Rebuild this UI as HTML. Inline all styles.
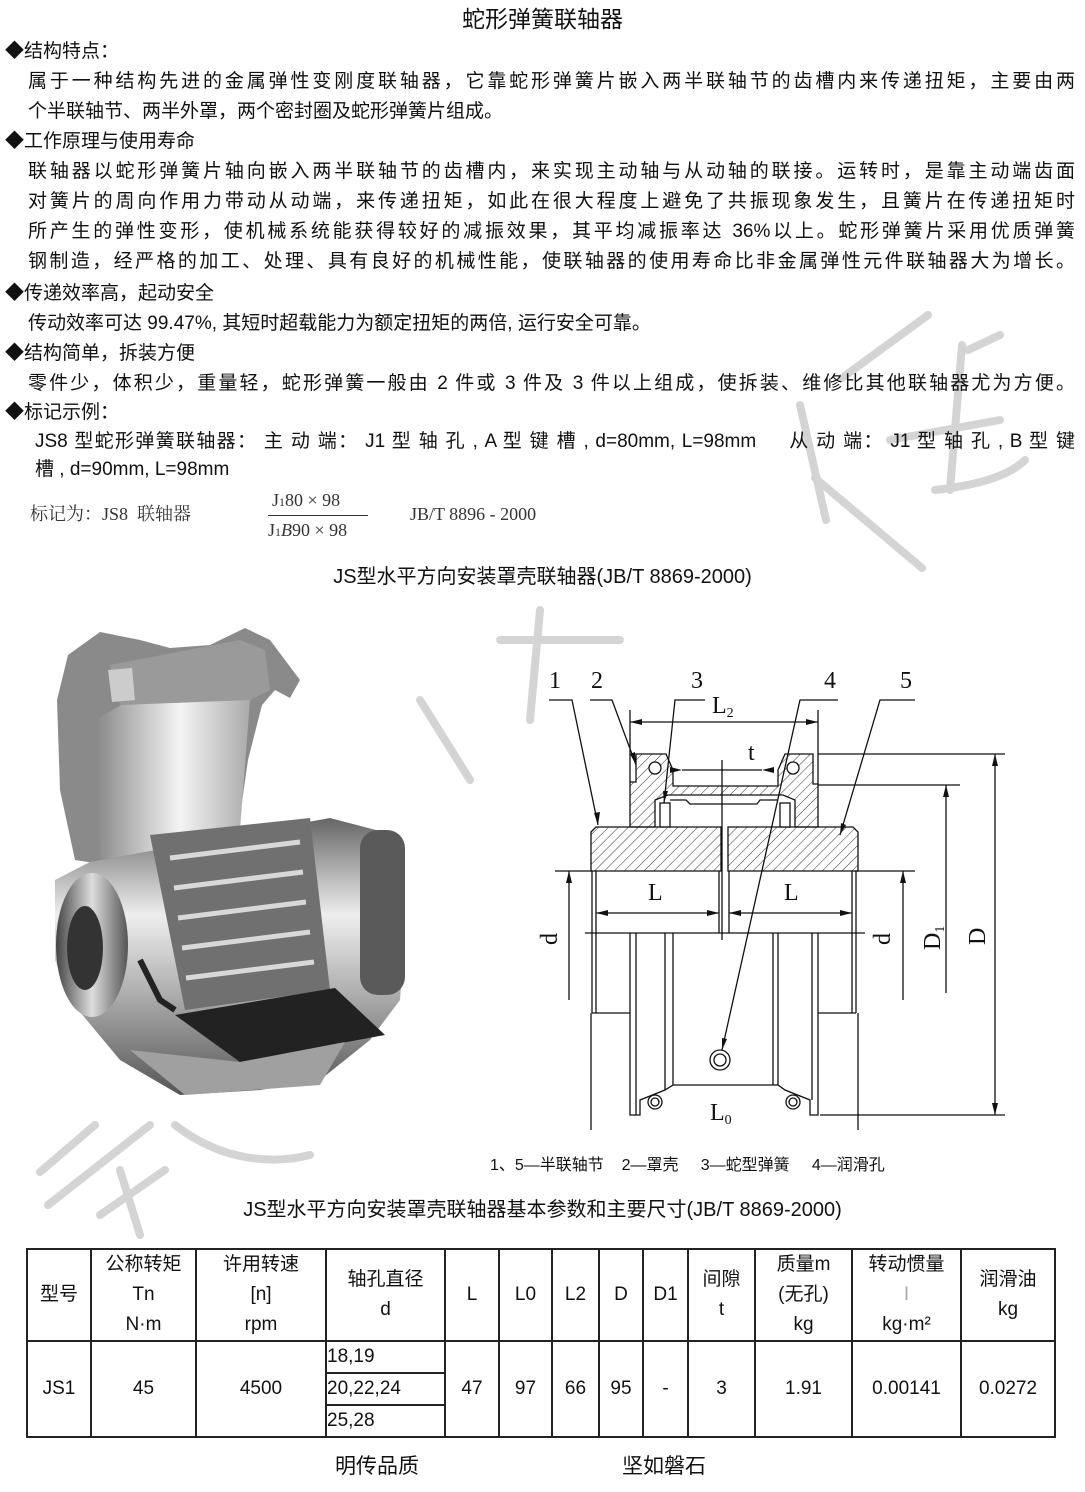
<!DOCTYPE html>
<html><head><meta charset="utf-8">
<style>
html,body{margin:0;padding:0;background:#fff}
body{width:1085px;height:1492px;position:relative;overflow:hidden;font-family:"Liberation Sans","Noto Sans CJK SC",sans-serif;color:#111}
.t{position:absolute;white-space:nowrap;font-size:19px;line-height:22px}
.j{text-align:justify;text-align-last:justify;white-space:normal}
table{position:absolute;left:26px;top:1248px;width:1030px;border-collapse:collapse;font-size:19px}
td{border:2px solid #222;text-align:center;padding:0;line-height:30px}
</style></head><body>
<svg width="1085" height="1492" style="position:absolute;left:0;top:0">
<!-- watermark -->
<g stroke="#d4d4d4" stroke-width="8" fill="none" stroke-linecap="round">
<path d="M928 315 L842 378"/>
<path d="M800 405 L826 520"/>
<path d="M815 478 L922 568"/>
<path d="M962 345 L950 490"/>
<path d="M890 440 L1000 420"/>
<path d="M935 490 C980 485 1010 475 1025 460"/>
<path d="M968 350 L1000 335"/>
<path d="M420 700 L470 780"/>
<path d="M500 640 L620 640 M540 610 L530 720"/>
<path d="M40 1172 L95 1125"/>
<path d="M48 1205 L150 1125"/>
<path d="M100 1215 L165 1170"/>
<path d="M120 1170 L140 1235"/>
<path d="M175 1125 C220 1160 270 1165 310 1155"/>
</g>
<defs>
<linearGradient id="g1" x1="0" y1="0" x2="0" y2="1"><stop offset="0" stop-color="#666"/><stop offset=".35" stop-color="#eee"/><stop offset=".65" stop-color="#aaa"/><stop offset="1" stop-color="#555"/></linearGradient>
<linearGradient id="g2" x1="0" y1="0" x2="1" y2="0"><stop offset="0" stop-color="#888"/><stop offset=".55" stop-color="#f4f4f4"/><stop offset="1" stop-color="#aaa"/></linearGradient>
<linearGradient id="g3" x1="0" y1="0" x2="1" y2="0"><stop offset="0" stop-color="#444"/><stop offset=".5" stop-color="#ddd"/><stop offset="1" stop-color="#555"/></linearGradient>
<pattern id="h" width="7" height="7" patternUnits="userSpaceOnUse" patternTransform="rotate(45)"><line x1="0" y1="0" x2="0" y2="7" stroke="#333" stroke-width="1"/></pattern>
</defs>
<!-- photo -->
<path d="M60 790 L57 700 L68 655 L100 632 L140 640 L170 648 L210 645 L245 628 L270 640 L300 680 L290 698 L275 690 L262 705 L248 760 L238 830 L140 870 L75 860 Z" fill="#8a8a8a"/>
<path d="M95 720 L130 700 L250 700 L240 830 L160 850 L100 860 Z" fill="url(#g2)"/>
<path d="M110 665 L240 640 L265 650 L270 690 L250 700 L120 705 Z" fill="#9a9a9a"/>
<path d="M108 670 L132 668 L135 700 L112 702 Z" fill="#ccc"/>
<path d="M55 880 L90 862 L330 818 L395 835 L405 930 L400 1000 L370 1040 L320 1080 L260 1090 L180 1095 L120 1060 L70 1000 L55 960 Z" fill="url(#g1)"/>
<ellipse cx="92" cy="945" rx="36" ry="72" fill="url(#g3)"/>
<ellipse cx="85" cy="948" rx="18" ry="42" fill="#333"/>
<path d="M150 835 L310 818 L330 990 L185 1010 Z" fill="#707070"/>
<g stroke="#d8d8d8" stroke-width="5" fill="none">
<path d="M170 858 L300 842 M174 888 L303 872 M178 918 L306 902 M182 948 L310 932 M186 978 L314 962"/>
</g>
<path d="M140 960 L160 1000 L175 1010" stroke="#222" stroke-width="6" fill="none"/>
<rect x="360" y="830" width="45" height="165" rx="18" fill="#5a5a5a"/>
<path d="M175 1015 L335 988 L385 1035 L240 1062 Z" fill="#222"/>
<path d="M130 1050 L240 1062 L345 1042 L320 1085 L185 1095 Z" fill="#a0a0a0"/>
<!-- technical drawing -->
<g stroke="#111" stroke-width="1.3" fill="none">
<path d="M591 832 L596 827 L721 827 L721 871 L591 871 Z" fill="url(#h)"/>
<path d="M728 827 L853 827 L858 832 L858 871 L728 871 Z" fill="url(#h)"/>
<path d="M630 827 L630 782 L636 782 L636 754 L666 754 L673 770 L673 786 L778 786 L778 770 L785 754 L813 754 L813 784 L818 784 L818 827 L795 827 L795 800 L783 795 L668 795 L655 800 L655 827 Z" fill="url(#h)"/>
<rect x="660" y="803" width="10" height="24" fill="#fff"/>
<rect x="780" y="803" width="10" height="24" fill="#fff"/>
<path d="M670 800 L686 800 L690 804 L757 804 L760 800 L778 800"/>
<circle cx="655" cy="768" r="6" fill="#fff"/><circle cx="793" cy="768" r="6" fill="#fff"/>
<line x1="592" y1="871" x2="592" y2="1013"/><line x1="596" y1="871" x2="596" y2="1013"/>
<line x1="719" y1="871" x2="719" y2="933"/><line x1="729" y1="871" x2="729" y2="933"/>
<line x1="856" y1="871" x2="856" y2="1013"/><line x1="852" y1="871" x2="852" y2="1013"/>
<line x1="585" y1="933" x2="865" y2="933"/>
<path d="M592 1013 L630 1013 M818 1013 L856 1013"/>
<path d="M630 933 L630 1115 L640 1115 L640 1100 L665 1090 L673 1085 L673 933 M673 1085 L778 1085 L778 933 M778 1085 L785 1090 L810 1100 L810 1115 L818 1115 L818 933"/>
<line x1="636" y1="933" x2="636" y2="1115"/><line x1="665" y1="933" x2="665" y2="1090"/>
<line x1="773" y1="933" x2="773" y2="1085"/><line x1="812" y1="933" x2="812" y2="1100"/>
<circle cx="720" cy="1060" r="10"/><circle cx="720" cy="1060" r="6"/>
<circle cx="655" cy="1102" r="7"/><circle cx="655" cy="1102" r="4"/>
<circle cx="793" cy="1102" r="7"/><circle cx="793" cy="1102" r="4"/>
<line x1="722" y1="760" x2="722" y2="940"/>
<line x1="630" y1="710" x2="630" y2="782"/><line x1="818" y1="710" x2="818" y2="784"/>
<line x1="630" y1="722" x2="818" y2="722"/>
<line x1="682" y1="770" x2="762" y2="770"/>
<line x1="818" y1="754" x2="1005" y2="754"/><line x1="818" y1="785" x2="960" y2="785"/>
<line x1="820" y1="1115" x2="1005" y2="1115"/>
<line x1="995" y1="754" x2="995" y2="1115"/>
<line x1="946" y1="785" x2="946" y2="993"/>
<line x1="855" y1="871" x2="915" y2="871"/><line x1="903" y1="871" x2="903" y2="1000"/>
<line x1="555" y1="871" x2="592" y2="871"/><line x1="569" y1="871" x2="569" y2="1000"/>
<line x1="596" y1="913" x2="719" y2="913"/><line x1="729" y1="913" x2="852" y2="913"/>
<line x1="591" y1="1013" x2="591" y2="1130"/><line x1="858" y1="1013" x2="858" y2="1130"/>
<path d="M549 700 L572 700 L598 825"/>
<path d="M590 700 L612 700 L636 765"/>
<path d="M705 700 L675 700 L664 803"/>
<path d="M838 700 L800 700 L722 1050"/>
<path d="M915 700 L880 700 L840 835"/>
</g>
<g fill="#111">
<path d="M630 722 l12 -3 v6z M818 722 l-12 -3 v6z"/>
<path d="M682 770 l-12 -3 v6z M762 770 l12 -3 v6z"/>
<path d="M995 754 l-3 12 h6z M995 1115 l-3 -12 h6z"/>
<path d="M946 785 l-3 12 h6z M903 871 l-3 12 h6z M569 871 l-3 12 h6z"/>
<path d="M596 913 l12 -3 v6z M719 913 l-12 -3 v6z M729 913 l12 -3 v6z M852 913 l-12 -3 v6z"/>
<path d="M598 825 l-4 -12 l6 -1z M636 765 l-6 -11 l5 -2z M664 803 l-1 -12 l5 0z M840 835 l1 -12 l5 2z M722 1050 l0 -12 l5 1z"/>
</g>
<g font-family="Liberation Serif,serif" font-size="24" fill="#111">
<text x="549" y="688">1</text><text x="591" y="688">2</text><text x="691" y="688">3</text><text x="824" y="688">4</text><text x="900" y="688">5</text>
<text x="712" y="713">L<tspan font-size="14" dy="4">2</tspan></text>
<text x="748" y="760">t</text>
<text x="648" y="900">L</text><text x="784" y="900">L</text>
<text x="710" y="1120">L<tspan font-size="14" dy="4">0</tspan></text>
<text transform="translate(557,945) rotate(-90)">d</text>
<text transform="translate(890,945) rotate(-90)">d</text>
<text transform="translate(940,950) rotate(-90)">D<tspan font-size="14" dy="4">1</tspan></text>
<text transform="translate(985,945) rotate(-90)">D</text>
</g>
</svg>

<div class="t" style="left:0;width:1085px;text-align:center;top:6px;font-size:23px;line-height:26px">蛇形弹簧联轴器</div>
<div class="t" style="left:5px;top:41px">◆结构特点：</div>
<div class="t j" style="left:28px;width:1047px;top:71px">属于一种结构先进的金属弹性变刚度联轴器，它靠蛇形弹簧片嵌入两半联轴节的齿槽内来传递扭矩，主要由两</div>
<div class="t" style="left:28px;top:101px">个半联轴节、两半外罩，两个密封圈及蛇形弹簧片组成。</div>
<div class="t" style="left:5px;top:131px">◆工作原理与使用寿命</div>
<div class="t j" style="left:28px;width:1047px;top:161px">联轴器以蛇形弹簧片轴向嵌入两半联轴节的齿槽内，来实现主动轴与从动轴的联接。运转时，是靠主动端齿面</div>
<div class="t j" style="left:28px;width:1047px;top:191px">对簧片的周向作用力带动从动端，来传递扭矩，如此在很大程度上避免了共振现象发生，且簧片在传递扭矩时</div>
<div class="t j" style="left:28px;width:1047px;top:221px">所产生的弹性变形，使机械系统能获得较好的减振效果，其平均减振率达 36%以上。蛇形弹簧片采用优质弹簧</div>
<div class="t j" style="left:28px;width:1047px;top:251px">钢制造，经严格的加工、处理、具有良好的机械性能，使联轴器的使用寿命比非金属弹性元件联轴器大为增长。</div>
<div class="t" style="left:5px;top:283px">◆传递效率高，起动安全</div>
<div class="t" style="left:28px;top:313px">传动效率可达 99.47%, 其短时超载能力为额定扭矩的两倍, 运行安全可靠。</div>
<div class="t" style="left:5px;top:343px">◆结构简单，拆装方便</div>
<div class="t j" style="left:28px;width:1047px;top:373px">零件少，体积少，重量轻，蛇形弹簧一般由 2 件或 3 件及 3 件以上组成，使拆装、维修比其他联轴器尤为方便。</div>
<div class="t" style="left:5px;top:402px">◆标记示例：</div>
<div class="t j" style="left:35px;width:1040px;top:431px">JS8 型蛇形弹簧联轴器： 主 动 端： J1 型 轴 孔 , A 型 键 槽 , d=80mm, L=98mm &nbsp; &nbsp; 从 动 端： J1 型 轴 孔 , B 型 键</div>
<div class="t" style="left:35px;top:459px">槽 , d=90mm, L=98mm</div>
<div class="t" style="left:30px;top:503px;font-family:'Liberation Serif','Noto Serif CJK SC',serif;font-size:18px;color:#333">标记为：JS8 &nbsp;联轴器</div>
<div class="t" style="left:272px;top:489px;font-family:'Liberation Serif',serif;font-size:18px;color:#333">J<span style="font-size:12px">1</span>80 × 98</div>
<div style="position:absolute;left:268px;top:515px;width:100px;border-top:1px solid #333"></div>
<div class="t" style="left:268px;top:519px;font-family:'Liberation Serif',serif;font-size:18px;color:#333">J<span style="font-size:12px">1</span><i>B</i>90 × 98</div>
<div class="t" style="left:410px;top:503px;font-family:'Liberation Serif',serif;font-size:18px;color:#333">JB/T 8896 - 2000</div>
<div class="t" style="left:0;width:1085px;text-align:center;top:566px;font-size:20px">JS型水平方向安装罩壳联轴器(JB/T 8869-2000)</div>
<div class="t" style="left:490px;top:1155px;font-size:16px">1、5—半联轴节 &nbsp; &nbsp;2—罩壳 &nbsp; &nbsp; 3—蛇型弹簧 &nbsp; &nbsp; 4—润滑孔</div>
<div class="t" style="left:0;width:1085px;text-align:center;top:1199px;font-size:20px">JS型水平方向安装罩壳联轴器基本参数和主要尺寸(JB/T 8869-2000)</div>
<table>
<tr style="height:92px"><td style="width:62px">型号</td><td style="width:103px">公称转矩<br>Tn<br>N·m</td><td style="width:128px">许用转速<br>[n]<br>rpm</td><td style="width:117px">轴孔直径<br>d</td><td style="width:52px">L</td><td style="width:51px">L0</td><td style="width:45px">L2</td><td style="width:42px">D</td><td style="width:43px">D1</td><td style="width:65px">间隙<br>t</td><td style="width:95px">质量m<br>(无孔)<br>kg</td><td style="width:107px">转动惯量<br><span style="color:#aaa">I</span><br>kg·m²</td><td>润滑油<br>kg</td></tr>
<tr style="height:31px"><td rowspan="3">JS1</td><td rowspan="3">45</td><td rowspan="3">4500</td><td style="text-align:left">18,19</td><td rowspan="3">47</td><td rowspan="3">97</td><td rowspan="3">66</td><td rowspan="3">95</td><td rowspan="3">-</td><td rowspan="3">3</td><td rowspan="3">1.91</td><td rowspan="3">0.00141</td><td rowspan="3">0.0272</td></tr>
<tr style="height:31px"><td style="text-align:left">20,22,24</td></tr>
<tr style="height:31px"><td style="text-align:left">25,28</td></tr>
</table>
<div class="t" style="left:335px;top:1456px;font-size:21px">明传品质</div>
<div class="t" style="left:622px;top:1456px;font-size:21px">坚如磐石</div>
</body></html>
